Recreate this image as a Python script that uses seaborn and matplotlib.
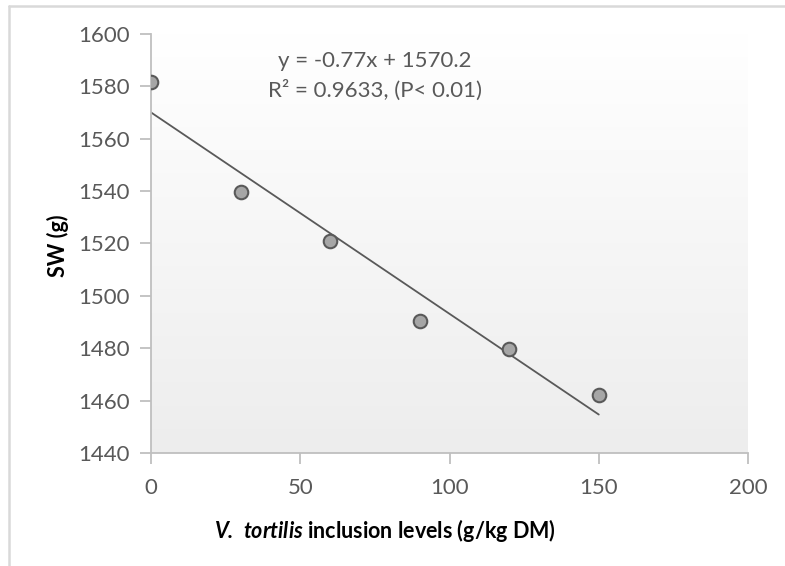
import numpy as np
import pandas as pd
import matplotlib
matplotlib.use("Agg")
import matplotlib.pyplot as plt
from matplotlib.lines import Line2D
import seaborn as sns

# Data
levels = [0, 30, 60, 90, 120, 150]
sw = [1581.5, 1539.5, 1521.0, 1490.5, 1479.7, 1462.0]
x_ticks = [0, 50, 100, 150, 200]
y_ticks = [1440, 1460, 1480, 1500, 1520, 1540, 1560, 1580, 1600]

df = pd.DataFrame({"level": levels, "sw": sw})
slope, intercept = np.polyfit(df["level"], df["sw"], 1)
trend = pd.DataFrame({"level": [min(levels), max(levels)]})
trend["sw"] = slope * trend["level"] + intercept

sns.set_theme(style="white")
plt.rcParams["font.family"] = ["Lato", "DejaVu Sans"]
plt.rcParams["mathtext.fontset"] = "custom"
plt.rcParams["mathtext.bfit"] = "Lato:italic:bold"
plt.rcParams["mathtext.rm"] = "Lato"

fig = plt.figure(figsize=(7.85, 5.66), dpi=100)
ax = fig.add_axes([0.1924, 0.1996, 0.7605, 0.7404])

# gradient background
grad = np.linspace(1, 0, 256).reshape(-1, 1)
ax.imshow(grad, extent=[0, 1, 0, 1], transform=ax.transAxes, aspect="auto",
          cmap=matplotlib.colors.LinearSegmentedColormap.from_list("g", ["#ededed", "#ffffff"]),
          zorder=0, interpolation="bicubic")

sns.lineplot(data=trend, x="level", y="sw", ax=ax, color="#595959", lw=1.3, zorder=2)
sns.scatterplot(data=df, x="level", y="sw", ax=ax, s=95, color="#a6a6a6",
                edgecolor="#595959", linewidth=1.5, zorder=3)

ax.set_xlim(0, 200)
ax.set_ylim(1440, 1600)
ax.set_xticks(x_ticks)
ax.set_yticks(y_ticks)
ax.set_xticklabels([str(v) for v in x_ticks])
ax.set_yticklabels([str(v) for v in y_ticks])

for s in ["top", "right"]:
    ax.spines[s].set_visible(False)
for s in ["left", "bottom"]:
    ax.spines[s].set_color("#bfbfbf")
    ax.spines[s].set_linewidth(1.3)
ax.tick_params(axis="both", colors="#bfbfbf", labelcolor="#595959", labelsize=16,
               length=8, width=1.3, direction="out", pad=7)
ax.tick_params(axis="x", bottom=True, pad=10)
ax.tick_params(axis="y", left=True)

ax.set_xlabel(r"$\mathbfit{V.\;tortilis}$ inclusion levels (g/kg DM)", fontsize=15.5,
              fontweight="bold", color="black", va="center")
ax.set_ylabel("SW (g)", fontsize=15.5, fontweight="bold", color="black", va="center")
ax.xaxis.set_label_coords((385 - 151) / 597, -0.184)
ax.yaxis.set_label_coords(-0.156, 0.5 + (243 - 245) / 419)

ax.text(75, 1589.5, "y = -0.77x + 1570.2", ha="center", va="center", fontsize=16, color="#595959")
ax.text(75, 1578.6, "R² = 0.9633, (P< 0.01)", ha="center", va="center", fontsize=16, color="#595959")

# outer border (left and top)
fig.add_artist(Line2D([9/785, 9/785], [0, 1 - 6/566], transform=fig.transFigure,
                      color="#d9d9d9", lw=1.8))
fig.add_artist(Line2D([9/785, 1], [1 - 6/566, 1 - 6/566], transform=fig.transFigure,
                      color="#d9d9d9", lw=1.8))

fig.savefig("out.png", dpi=100)
